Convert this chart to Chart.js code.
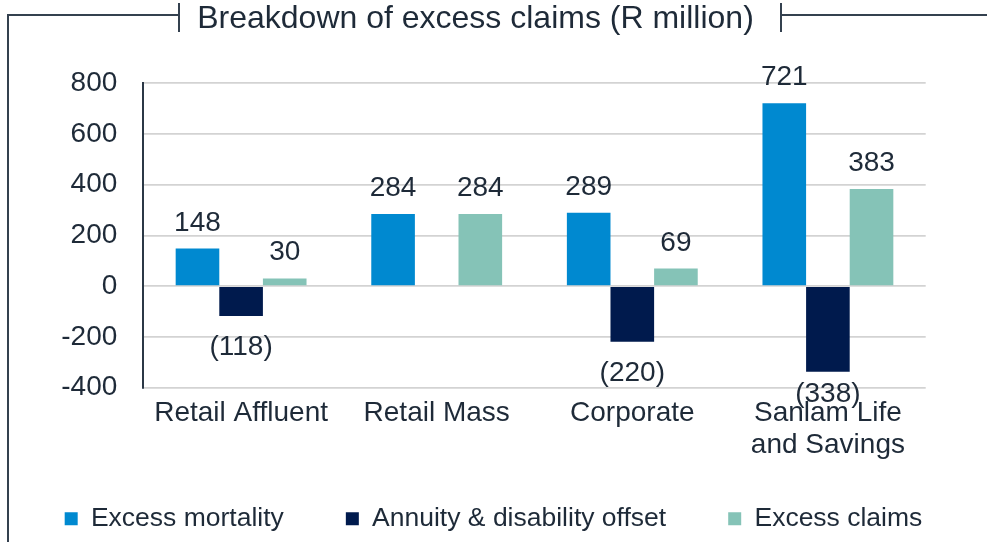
<!DOCTYPE html>
<html>
<head>
<meta charset="utf-8">
<script src="https://cdn.jsdelivr.net/npm/chart.js@4.4.1/dist/chart.umd.min.js"></script>
<style>
  html, body { margin: 0; padding: 0; background: #fff; overflow: hidden; }
  #wrap { width: 987px; height: 542px; }
</style>
</head>
<body>
<div id="wrap"><canvas id="claimsChart"></canvas></div>
<script>
// data
const categories = ['Retail Affluent', 'Retail Mass', 'Corporate', ['Sanlam Life', 'and Savings']];
const excessMortality = [148, 284, 289, 721];
const annuityOffset = [-118, null, -220, -338];
const excessClaims = [30, 284, 69, 383];
const seriesNames = ['Excess mortality', 'Annuity & disability offset', 'Excess claims'];
const yRange = [-400, 800];
const yStep = 200;
const chartTitle = 'Breakdown of excess claims (R million)';

const textColor = '#1e2a38';
const frameColor = '#34414f';
const fontFamily = '"Liberation Sans", Arial, sans-serif';

Chart.defaults.font.family = fontFamily;
Chart.defaults.color = textColor;

// numbers above / below the bars, negatives in brackets
// (negative labels are kept from dropping too far below the plot, like the original)
const valueLabels = {
  id: 'valueLabels',
  afterDatasetsDraw(chart) {
    const ctx = chart.ctx;
    const lowest = chart.chartArea.bottom + 14;
    ctx.save();
    ctx.font = '28px ' + fontFamily;
    ctx.fillStyle = textColor;
    ctx.textAlign = 'center';
    ctx.textBaseline = 'alphabetic';
    chart.data.datasets.forEach((ds, i) => {
      chart.getDatasetMeta(i).data.forEach((bar, j) => {
        const v = ds.data[j];
        if (v == null) return;
        if (v >= 0) ctx.fillText(String(v), bar.x, bar.y - 18);
        else ctx.fillText('(' + Math.abs(v) + ')', bar.x, Math.min(bar.y + 39, lowest));
      });
    });
    ctx.restore();
  }
};

// boxed title line across the top
const titleFrame = {
  id: 'titleFrame',
  afterDraw(chart) {
    const ctx = chart.ctx;
    ctx.save();
    ctx.strokeStyle = frameColor;
    ctx.lineWidth = 2;
    ctx.beginPath();
    ctx.moveTo(8, chart.height);
    ctx.lineTo(8, 15);
    ctx.lineTo(179, 15);
    ctx.moveTo(179, 3);
    ctx.lineTo(179, 32);
    ctx.moveTo(781, 3);
    ctx.lineTo(781, 32);
    ctx.moveTo(781, 15);
    ctx.lineTo(chart.width, 15);
    ctx.stroke();
    ctx.font = '32px ' + fontFamily;
    ctx.fillStyle = textColor;
    ctx.textAlign = 'center';
    ctx.textBaseline = 'alphabetic';
    ctx.fillText(chartTitle, 475.5, 28);
    ctx.restore();
  }
};

new Chart(document.getElementById('claimsChart'), {
  type: 'bar',
  data: {
    labels: categories,
    datasets: [
      { label: seriesNames[0], data: excessMortality, backgroundColor: '#0089d0' },
      { label: seriesNames[1], data: annuityOffset, backgroundColor: '#001a4d' },
      { label: seriesNames[2], data: excessClaims, backgroundColor: '#85c3b7' }
    ]
  },
  options: {
    responsive: true,
    maintainAspectRatio: false,
    animation: false,
    datasets: {
      bar: { categoryPercentage: 0.669, barPercentage: 1, borderWidth: 0 }
    },
    layout: {
      padding: { top: 83.3, right: 0, bottom: 0, left: 0 }
    },
    scales: {
      x: {
        grid: { display: false, drawTicks: false },
        border: { display: false },
        ticks: {
          padding: 9.3,
          maxRotation: 0,
          autoSkip: false,
          font: { size: 28, lineHeight: 1.143 },
          color: textColor
        },
        // tall enough for the two-line label, the labels get clipped to this box
        afterFit(scale) { scale.height = 71.5; }
      },
      y: {
        min: yRange[0],
        max: yRange[1],
        grid: { color: '#d3d3d3', lineWidth: 1.7, drawTicks: false },
        border: { display: true, color: '#2b3846', width: 2 },
        ticks: {
          stepSize: yStep,
          autoSkip: false,
          padding: 26,
          font: { size: 28 },
          color: textColor
        },
        afterFit(scale) { scale.width = 143.3; }
      },
      // empty axis on the right, only to keep the gap after the plot
      gap: {
        type: 'linear',
        position: 'right',
        grid: { display: false, drawTicks: false },
        border: { display: false },
        ticks: { display: false },
        afterFit(scale) { scale.width = 61.3; }
      }
    },
    plugins: {
      legend: {
        display: true,
        position: 'bottom',
        // empty title with negative padding pulls the legend row up
        // so the wide item spacing does not push it off the bottom
        title: {
          display: true,
          text: '',
          font: { size: 1, lineHeight: 1 },
          padding: { top: -8.25, bottom: -8.25 }
        },
        labels: {
          boxWidth: 13,
          boxHeight: 13,
          padding: 62,
          font: { size: 26.5 },
          color: textColor
        }
      },
      tooltip: { enabled: false }
    }
  },
  plugins: [valueLabels, titleFrame]
});
</script>
</body>
</html>
